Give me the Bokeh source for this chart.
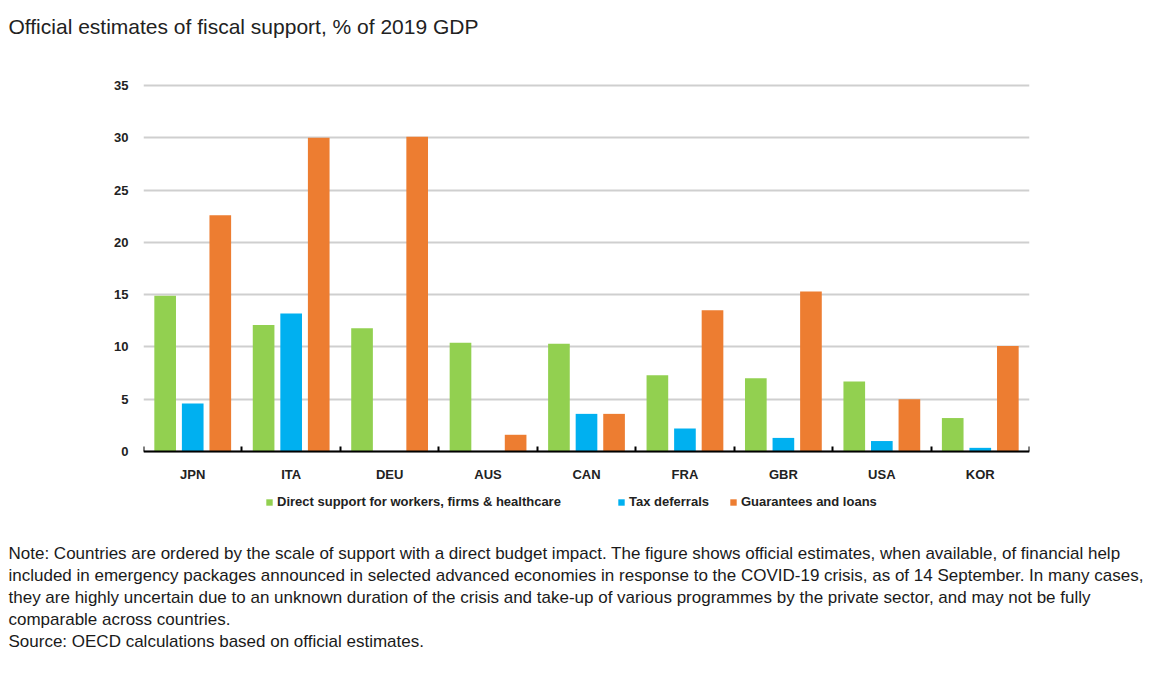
from bokeh.plotting import figure
from bokeh.models import (ColumnDataSource, Range1d, LinearAxis, FixedTicker, Title, Legend, LegendItem)
from bokeh.transform import dodge
from bokeh.embed import file_html
from bokeh.resources import INLINE

countries = ["JPN", "ITA", "DEU", "AUS", "CAN", "FRA", "GBR", "USA", "KOR"]
direct_support = [14.9, 12.1, 11.8, 10.4, 10.3, 7.3, 7.0, 6.7, 3.2]
tax_deferrals = [4.6, 13.2, 0.0, 0.0, 3.6, 2.2, 1.3, 1.0, 0.35]
guarantees_loans = [22.6, 30.0, 30.1, 1.6, 3.6, 13.5, 15.3, 5.0, 10.1]
series_names = ["Direct support for workers, firms & healthcare", "Tax deferrals", "Guarantees and loans"]
series_colors = ["#92D050", "#00B0F0", "#ED7D31"]
y_ticks = [0, 5, 10, 15, 20, 25, 30, 35]
title_text = "Official estimates of fiscal support, % of 2019 GDP"
note_lines = [
    "Note: Countries are ordered by the scale of support with a direct budget impact. The figure shows official estimates, when available, of financial help",
    "included in emergency packages announced in selected advanced economies in response to the COVID-19 crisis, as of 14 September. In many cases,",
    "they are highly uncertain due to an unknown duration of the crisis and take-up of various programmes by the private sector, and may not be fully",
    "comparable across countries.",
    "Source: OECD calculations based on official estimates.",
]

FONT = "Liberation Sans"
n = len(countries)
centers = [i + 0.5 for i in range(n)]
src = ColumnDataSource(dict(country=countries, pos=centers, direct=direct_support,
                            tax=tax_deferrals, guar=guarantees_loans))

# layout geometry (pixels)
FRAME_TOP, ZERO_PX, FRAME_BOTTOM = 83, 451, 541
Y_TOP = 35.2
y_start = -Y_TOP * (FRAME_BOTTOM - ZERO_PX) / (ZERO_PX - FRAME_TOP)

p = figure(width=1164, height=675, x_range=Range1d(0, n), y_range=Range1d(y_start, Y_TOP),
           x_axis_location=None, output_backend="svg", toolbar_location=None,
           min_border_left=143, min_border_right=135, min_border_top=FRAME_TOP,
           min_border_bottom=675 - FRAME_BOTTOM)
p.outline_line_color = None

# title (spacer first so the title sits further from the frame)
p.add_layout(Title(text=" ", text_font_size="1px", standoff=42), "above")
p.add_layout(Title(text=title_text, align="left", offset=-135, text_font=FONT,
                   text_font_size="21px", text_font_style="normal", text_color="#222222",
                   vertical_align="middle", standoff=0), "above")

p.yaxis.ticker = FixedTicker(ticks=y_ticks)
p.yaxis.axis_line_color = None
p.yaxis.major_tick_line_color = None
p.yaxis.minor_tick_line_color = None
p.yaxis.major_label_text_font = FONT
p.yaxis.major_label_text_font_style = "bold"
p.yaxis.major_label_text_font_size = "13px"
p.yaxis.major_label_text_color = "#222222"
p.yaxis.major_label_standoff = 9
p.ygrid.ticker = FixedTicker(ticks=y_ticks)
p.ygrid.grid_line_color = "#CFCFCF"
p.ygrid.grid_line_width = 2
p.xgrid.visible = False

edges = list(range(n + 1))
edge_axis = LinearAxis(ticker=FixedTicker(ticks=edges), fixed_location=0,
                       major_tick_in=5, major_tick_out=0, minor_tick_line_color=None,
                       axis_line_color="black", axis_line_width=2, major_tick_line_color="black",
                       major_tick_line_width=2, major_label_text_font_size="0px", major_label_standoff=0)
edge_axis.major_label_overrides = {e: "" for e in edges}
p.add_layout(edge_axis, "below")
label_axis = LinearAxis(ticker=FixedTicker(ticks=centers), fixed_location=0, axis_line_color=None,
                        major_tick_line_color=None, minor_tick_line_color=None,
                        major_label_text_font=FONT, major_label_text_font_style="bold",
                        major_label_text_font_size="13px", major_label_text_color="#222222",
                        major_label_standoff=9)
label_axis.major_label_overrides = {c: name for c, name in zip(centers, countries)}
p.add_layout(label_axis, "below")

offsets = [-0.28, 0.0, 0.28]
fields = ["direct", "tax", "guar"]
renderers = []
for f, off, c in zip(fields, offsets, series_colors):
    r = p.vbar(x=dodge("pos", off), top=f, width=0.22, source=src,
               fill_color=c, line_color=None)
    renderers.append(r)

legend_x = [122, 474, 586]
for nm, r, lx in zip(series_names, renderers, legend_x):
    lg = Legend(items=[LegendItem(label=nm, renderers=[r])], location=(lx, 32),
                orientation="horizontal", glyph_width=8, glyph_height=8,
                label_standoff=4, label_height=14, padding=0, margin=0, spacing=0,
                label_text_font=FONT, label_text_font_style="bold",
                label_text_font_size="13px", label_text_color="#222222",
                border_line_color=None, background_fill_alpha=0)
    p.add_layout(lg, "center")

for t in note_lines:
    p.add_layout(Title(text=t, align="left", offset=-135, text_font=FONT,
                       text_font_size="17px", text_font_style="normal", text_color="#1a1a1a",
                       standoff=1), "below")

open("out.html", "w").write(file_html(p, INLINE))
